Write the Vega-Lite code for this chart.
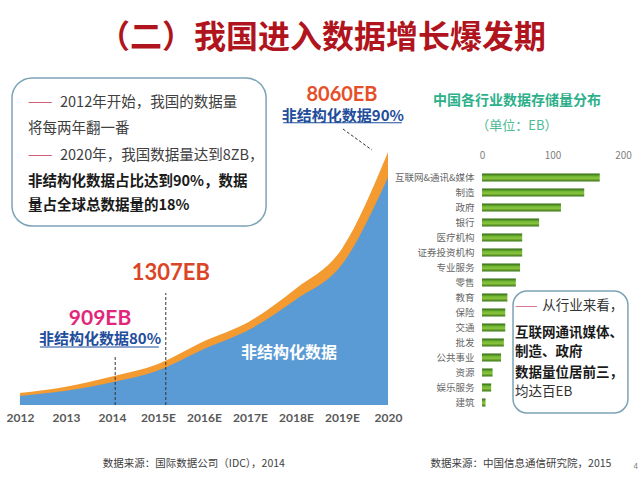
{
  "$schema": "https://vega.github.io/schema/vega-lite/v6.json",
  "background": "white",
  "padding": {"top": 22, "left": 6, "right": 0, "bottom": 0},
  "title": {"text": "（二）我国进入数据增长爆发期", "font": "Noto Sans CJK SC", "fontSize": 32, "fontWeight": "bold", "color": "#B0141C", "anchor": "middle", "offset": 21},
  "bounds": "flush",
  "spacing": 94,
  "config": {"view": {"stroke": null}, "font": "Noto Sans CJK SC"},
  "hconcat": [
    {
      "width": 380,
      "height": 329,
      "resolve": {"axis": {"x": "independent", "y": "independent"}},
      "data": {"values": [
        {"year": 2012, "total": 380, "unstructured": 290},
        {"year": 2013, "total": 580, "unstructured": 450},
        {"year": 2014, "total": 909, "unstructured": 727},
        {"year": 2015, "total": 1307, "unstructured": 1100},
        {"year": 2016, "total": 2030, "unstructured": 1780},
        {"year": 2017, "total": 2670, "unstructured": 2410},
        {"year": 2018, "total": 3710, "unstructured": 3360},
        {"year": 2019, "total": 4980, "unstructured": 4480},
        {"year": 2020, "total": 8060, "unstructured": 7254}
      ]},
      "layer": [
        {
          "mark": {"type": "area", "color": "#F39A30", "interpolate": "monotone"},
          "encoding": {
            "x": {"field": "year", "type": "quantitative", "scale": {"domain": [2011.74, 2020], "nice": false, "zero": false},
                  "axis": {"values": [2012, 2013, 2014, 2015, 2016, 2017, 2018, 2019, 2020], "labelExpr": "datum.value >= 2015 && datum.value <= 2019 ? datum.value + 'E' : '' + datum.value", "title": null, "grid": false, "domain": false, "ticks": false, "labelFont": "Lato", "labelFontWeight": "bold", "labelFontSize": 12, "labelColor": "#595959", "labelPadding": 7, "labelFlush": false, "labelOverlap": false}},
            "y": {"field": "total", "type": "quantitative", "scale": {"domain": [0, 10480], "nice": false, "zero": false}, "axis": null}
          }
        },
        {
          "mark": {"type": "area", "color": "#5B9BD5", "interpolate": "monotone"},
          "encoding": {
            "x": {"field": "year", "type": "quantitative", "scale": {"domain": [2011.74, 2020], "nice": false, "zero": false}, "axis": null},
            "y": {"field": "unstructured", "type": "quantitative", "scale": {"domain": [0, 10480], "nice": false, "zero": false}, "axis": null}
          }
        },
        {
          "data": {"values": [{"label": "非结构化数据", "x": 2017.85, "y": 1657}]},
          "mark": {"type": "text", "color": "white", "fontWeight": "bold", "fontSize": 16, "font": "Noto Sans CJK SC", "baseline": "middle"},
          "encoding": {
            "x": {"field": "x", "type": "quantitative", "scale": {"domain": [2011.74, 2020], "nice": false, "zero": false}, "axis": null},
            "y": {"field": "y", "type": "quantitative", "scale": {"domain": [0, 10480], "nice": false, "zero": false}, "axis": null},
            "text": {"field": "label"}
          }
        },
        {
          "data": {"values": [
            {"x": 2014.07, "x2": 2014.07, "y": 0, "y2": 1560},
            {"x": 2015.17, "x2": 2015.17, "y": 0, "y2": 3568},
            {"x": 2019.02, "x2": 2019.65, "y": 8793, "y2": 8124}
          ]},
          "mark": {"type": "rule", "color": "#333333", "strokeWidth": 1, "strokeDash": [3, 2]},
          "encoding": {
            "x": {"field": "x", "type": "quantitative", "scale": {"domain": [2011.74, 2020], "nice": false, "zero": false}, "axis": null},
            "x2": {"field": "x2"},
            "y": {"field": "y", "type": "quantitative", "scale": {"domain": [0, 10480], "nice": false, "zero": false}, "axis": null},
            "y2": {"field": "y2"}
          }
        },
        {
          "data": {"values": [
            {"x": 2012.436, "x2": 2015.02, "y": 1848, "y2": 1848},
            {"x": 2017.72, "x2": 2020.3, "y": 8991, "y2": 8991}
          ]},
          "mark": {"type": "rule", "color": "#1F4E9C", "strokeWidth": 1.2},
          "encoding": {
            "x": {"field": "x", "type": "quantitative", "scale": {"domain": [2011.74, 2020], "nice": false, "zero": false}, "axis": null},
            "x2": {"field": "x2"},
            "y": {"field": "y", "type": "quantitative", "scale": {"domain": [0, 10480], "nice": false, "zero": false}, "axis": null},
            "y2": {"field": "y2"}
          }
        },
        {
          "data": {"values": [
            {"label": "非结构化数据80%", "x": 2013.74, "y": 2103},
            {"label": "非结构化数据90%", "x": 2019.02, "y": 9200}
          ]},
          "mark": {"type": "text", "color": "#1F4E9C", "fontWeight": "bold", "fontSize": 15, "font": "Noto Sans CJK SC", "baseline": "middle"},
          "encoding": {
            "x": {"field": "x", "type": "quantitative", "scale": {"domain": [2011.74, 2020], "nice": false, "zero": false}, "axis": null},
            "y": {"field": "y", "type": "quantitative", "scale": {"domain": [0, 10480], "nice": false, "zero": false}, "axis": null},
            "text": {"field": "label"}
          }
        },
        {
          "data": {"values": [{"label": "909EB", "x": 2013.74, "y": 2740}]},
          "mark": {"type": "text", "color": "#E2277B", "fontWeight": "bold", "fontSize": 21, "font": "Lato", "baseline": "middle"},
          "encoding": {
            "x": {"field": "x", "type": "quantitative", "scale": {"domain": [2011.74, 2020], "nice": false, "zero": false}, "axis": null},
            "y": {"field": "y", "type": "quantitative", "scale": {"domain": [0, 10480], "nice": false, "zero": false}, "axis": null},
            "text": {"field": "label"}
          }
        },
        {
          "data": {"values": [{"label": "1307EB", "x": 2015.28, "y": 4205}]},
          "mark": {"type": "text", "color": "#DB4527", "fontWeight": "bold", "fontSize": 22, "font": "Lato", "baseline": "middle"},
          "encoding": {
            "x": {"field": "x", "type": "quantitative", "scale": {"domain": [2011.74, 2020], "nice": false, "zero": false}, "axis": null},
            "y": {"field": "y", "type": "quantitative", "scale": {"domain": [0, 10480], "nice": false, "zero": false}, "axis": null},
            "text": {"field": "label"}
          }
        },
        {
          "data": {"values": [{"label": "8060EB", "x": 2019.0, "y": 9860}]},
          "mark": {"type": "text", "color": "#E5502B", "fontWeight": "bold", "fontSize": 20, "font": "Lato", "baseline": "middle"},
          "encoding": {
            "x": {"field": "x", "type": "quantitative", "scale": {"domain": [2011.74, 2020], "nice": false, "zero": false}, "axis": null},
            "y": {"field": "y", "type": "quantitative", "scale": {"domain": [0, 10480], "nice": false, "zero": false}, "axis": null},
            "text": {"field": "label"}
          }
        },
        {
          "data": {"values": [{"x": 2011.827, "x2": 2017.35, "y": 10417, "y2": 5702}]},
          "mark": {"type": "rect", "fill": "white", "stroke": "#7BA3B6", "strokeWidth": 1.5, "cornerRadius": 20},
          "encoding": {
            "x": {"field": "x", "type": "quantitative", "scale": {"domain": [2011.74, 2020], "nice": false, "zero": false}, "axis": null},
            "x2": {"field": "x2"},
            "y": {"field": "y", "type": "quantitative", "scale": {"domain": [0, 10480], "nice": false, "zero": false}, "axis": null},
            "y2": {"field": "y2"}
          }
        },
        {
          "data": {"values": [{"x": 2012.175, "y": 9621}, {"x": 2012.175, "y": 7932}]},
          "mark": {"type": "text", "text": "——", "color": "#D05C78", "fontSize": 14.5, "font": "Noto Sans CJK SC", "align": "left", "baseline": "middle"},
          "encoding": {
            "x": {"field": "x", "type": "quantitative", "scale": {"domain": [2011.74, 2020], "nice": false, "zero": false}, "axis": null},
            "y": {"field": "y", "type": "quantitative", "scale": {"domain": [0, 10480], "nice": false, "zero": false}, "axis": null}
          }
        },
        {
          "data": {"values": [
            {"label": "2012年开始，我国的数据量", "x": 2012.87, "y": 9621},
            {"label": "将每两年翻一番", "x": 2012.175, "y": 8793},
            {"label": "2020年，我国数据量达到8ZB，", "x": 2012.87, "y": 7932}
          ]},
          "mark": {"type": "text", "color": "#404040", "fontSize": 14.5, "font": "Noto Sans CJK SC", "align": "left", "baseline": "middle"},
          "encoding": {
            "x": {"field": "x", "type": "quantitative", "scale": {"domain": [2011.74, 2020], "nice": false, "zero": false}, "axis": null},
            "y": {"field": "y", "type": "quantitative", "scale": {"domain": [0, 10480], "nice": false, "zero": false}, "axis": null},
            "text": {"field": "label"}
          }
        },
        {
          "data": {"values": [
            {"label": "非结构化数据占比达到90%，数据", "x": 2012.175, "y": 7104},
            {"label": "量占全球总数据量的18%", "x": 2012.175, "y": 6340}
          ]},
          "mark": {"type": "text", "color": "#1A1A1A", "fontWeight": "bold", "fontSize": 14.5, "font": "Noto Sans CJK SC", "align": "left", "baseline": "middle"},
          "encoding": {
            "x": {"field": "x", "type": "quantitative", "scale": {"domain": [2011.74, 2020], "nice": false, "zero": false}, "axis": null},
            "y": {"field": "y", "type": "quantitative", "scale": {"domain": [0, 10480], "nice": false, "zero": false}, "axis": null},
            "text": {"field": "label"}
          }
        },
        {
          "data": {"values": [{"label": "数据来源：国际数据公司（IDC），2014", "x": 2015.78, "y": -1880}]},
          "mark": {"type": "text", "color": "#404040", "fontSize": 10.5, "font": "Noto Sans CJK SC", "baseline": "middle"},
          "encoding": {
            "x": {"field": "x", "type": "quantitative", "scale": {"domain": [2011.74, 2020], "nice": false, "zero": false}, "axis": null},
            "y": {"field": "y", "type": "quantitative", "scale": {"domain": [0, 10480], "nice": false, "zero": false}, "axis": null},
            "text": {"field": "label"}
          }
        }
      ]
    },
    {
      "bounds": "flush",
      "spacing": 34,
      "vconcat": [
        {
          "width": 141,
          "height": 60,
          "layer": [
            {
              "data": {"values": [{"label": "中国各行业数据存储量分布", "x": 49.6, "y": 25}]},
              "mark": {"type": "text", "color": "#2DB08A", "fontWeight": "bold", "fontSize": 14, "font": "Noto Sans CJK SC", "baseline": "middle"},
              "encoding": {
                "x": {"field": "x", "type": "quantitative", "scale": {"domain": [0, 200], "nice": false, "zero": false}, "axis": null},
                "y": {"field": "y", "type": "quantitative", "scale": {"domain": [0, 60], "reverse": true, "nice": false, "zero": false}, "axis": null},
                "text": {"field": "label"}
              }
            },
            {
              "data": {"values": [{"label": "（单位：EB）", "x": 49.6, "y": 50}]},
              "mark": {"type": "text", "color": "#4DBB95", "fontSize": 13, "font": "Noto Sans CJK SC", "baseline": "middle"},
              "encoding": {
                "x": {"field": "x", "type": "quantitative", "scale": {"domain": [0, 200], "nice": false, "zero": false}, "axis": null},
                "y": {"field": "y", "type": "quantitative", "scale": {"domain": [0, 60], "reverse": true, "nice": false, "zero": false}, "axis": null},
                "text": {"field": "label"}
              }
            }
          ]
        },
        {
          "width": 141,
          "height": 240,
          "resolve": {"scale": {"y": "independent"}, "axis": {"x": "independent", "y": "independent"}},
          "layer": [
            {
              "data": {"values": [
                {"industry": "互联网&通讯&媒体", "value": 167},
                {"industry": "制造", "value": 145},
                {"industry": "政府", "value": 112},
                {"industry": "银行", "value": 81},
                {"industry": "医疗机构", "value": 57},
                {"industry": "证券投资机构", "value": 57},
                {"industry": "专业服务", "value": 54},
                {"industry": "零售", "value": 48},
                {"industry": "教育", "value": 36},
                {"industry": "保险", "value": 33},
                {"industry": "交通", "value": 33},
                {"industry": "批发", "value": 31},
                {"industry": "公共事业", "value": 27},
                {"industry": "资源", "value": 15},
                {"industry": "娱乐服务", "value": 13},
                {"industry": "建筑", "value": 5}
              ]},
              "mark": {"type": "bar", "size": 8, "fill": {"gradient": "linear", "x1": 0, "y1": 0, "x2": 0, "y2": 1, "stops": [{"offset": 0, "color": "#2F6512"}, {"offset": 0.35, "color": "#6FB534"}, {"offset": 0.6, "color": "#8CC63F"}, {"offset": 1, "color": "#3A7418"}]}},
              "encoding": {
                "y": {"field": "industry", "type": "nominal", "sort": null, "scale": {"paddingInner": 0.1, "paddingOuter": 0.05},
                      "axis": {"title": null, "domain": false, "ticks": false, "labelPadding": 8, "labelFontSize": 9.5, "labelColor": "#666666", "labelFont": "Noto Sans CJK SC"}},
                "x": {"field": "value", "type": "quantitative", "scale": {"domain": [0, 200], "nice": false, "zero": false},
                      "axis": {"orient": "top", "values": [0, 100, 200], "title": null, "grid": false, "domain": false, "ticks": false, "labelPadding": 9.5, "labelFontSize": 10, "labelColor": "#7F7F7F", "labelFont": "Noto Sans CJK SC", "labelFlush": false}}
              }
            },
            {
              "data": {"values": [{"x": 44, "x2": 207, "y": 8.07, "y2": 16.2}]},
              "mark": {"type": "rect", "fill": "white", "stroke": "#7BA3B6", "strokeWidth": 1.5, "cornerRadius": 14},
              "encoding": {
                "x": {"field": "x", "type": "quantitative", "scale": {"domain": [0, 200], "nice": false, "zero": false}, "axis": null},
                "x2": {"field": "x2"},
                "y": {"field": "y", "type": "quantitative", "scale": {"domain": [0, 16], "reverse": true, "nice": false, "zero": false}, "axis": null},
                "y2": {"field": "y2"}
              }
            },
            {
              "data": {"values": [{"x": 46.8, "y": 9.07}]},
              "mark": {"type": "text", "text": "——", "color": "#D05C78", "fontSize": 13.5, "font": "Noto Sans CJK SC", "align": "left", "baseline": "middle"},
              "encoding": {
                "x": {"field": "x", "type": "quantitative", "scale": {"domain": [0, 200], "nice": false, "zero": false}, "axis": null},
                "y": {"field": "y", "type": "quantitative", "scale": {"domain": [0, 16], "reverse": true, "nice": false, "zero": false}, "axis": null}
              }
            },
            {
              "data": {"values": [
                {"label": "从行业来看，", "x": 85.5, "y": 9.07},
                {"label": "均达百EB", "x": 46.8, "y": 14.8}
              ]},
              "mark": {"type": "text", "color": "#333333", "fontSize": 13.5, "font": "Noto Sans CJK SC", "align": "left", "baseline": "middle"},
              "encoding": {
                "x": {"field": "x", "type": "quantitative", "scale": {"domain": [0, 200], "nice": false, "zero": false}, "axis": null},
                "y": {"field": "y", "type": "quantitative", "scale": {"domain": [0, 16], "reverse": true, "nice": false, "zero": false}, "axis": null},
                "text": {"field": "label"}
              }
            },
            {
              "data": {"values": [
                {"label": "互联网通讯媒体、", "x": 46.8, "y": 10.87},
                {"label": "制造、政府", "x": 46.8, "y": 12.13},
                {"label": "数据量位居前三，", "x": 46.8, "y": 13.5}
              ]},
              "mark": {"type": "text", "color": "#1A1A1A", "fontWeight": "bold", "fontSize": 13.5, "font": "Noto Sans CJK SC", "align": "left", "baseline": "middle"},
              "encoding": {
                "x": {"field": "x", "type": "quantitative", "scale": {"domain": [0, 200], "nice": false, "zero": false}, "axis": null},
                "y": {"field": "y", "type": "quantitative", "scale": {"domain": [0, 16], "reverse": true, "nice": false, "zero": false}, "axis": null},
                "text": {"field": "label"}
              }
            },
            {
              "data": {"values": [{"label": "数据来源：中国信息通信研究院，2015", "x": 55.3, "y": 19.6}]},
              "mark": {"type": "text", "color": "#404040", "fontSize": 10.5, "font": "Noto Sans CJK SC", "baseline": "middle"},
              "encoding": {
                "x": {"field": "x", "type": "quantitative", "scale": {"domain": [0, 200], "nice": false, "zero": false}, "axis": null},
                "y": {"field": "y", "type": "quantitative", "scale": {"domain": [0, 16], "reverse": true, "nice": false, "zero": false}, "axis": null},
                "text": {"field": "label"}
              }
            },
            {
              "data": {"values": [{"label": "4", "x": 218, "y": 19.8}]},
              "mark": {"type": "text", "color": "#7F7F7F", "fontSize": 8, "font": "Noto Sans CJK SC", "baseline": "middle"},
              "encoding": {
                "x": {"field": "x", "type": "quantitative", "scale": {"domain": [0, 200], "nice": false, "zero": false}, "axis": null},
                "y": {"field": "y", "type": "quantitative", "scale": {"domain": [0, 16], "reverse": true, "nice": false, "zero": false}, "axis": null},
                "text": {"field": "label"}
              }
            }
          ]
        }
      ]
    }
  ]
}
